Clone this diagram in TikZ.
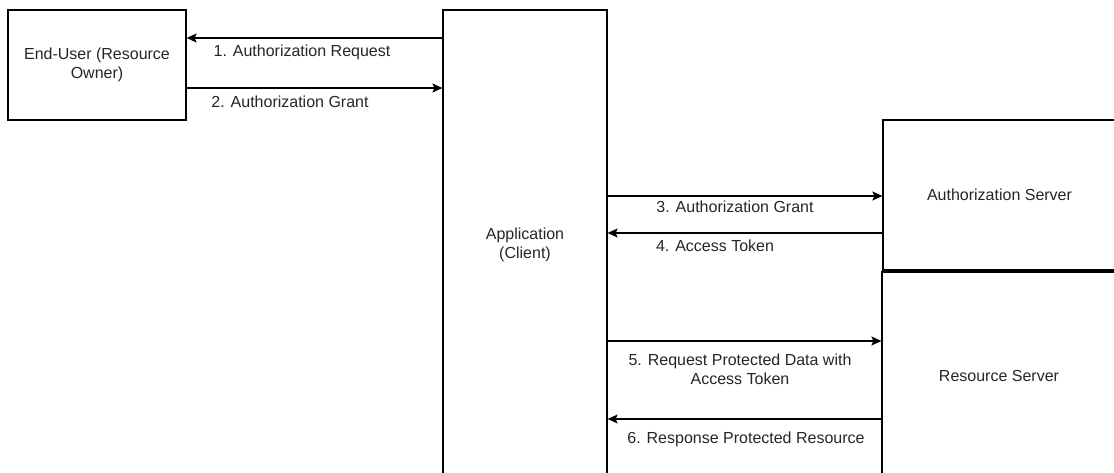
\documentclass[tikz,border=0pt]{standalone}
\usepackage{fontspec}
\setmainfont{Liberation Sans}
\usetikzlibrary{arrows.meta}
\begin{document}
\begin{tikzpicture}[x=1pt,y=-1pt,
  box/.style={draw=black,line width=1.2pt,fill=white,inner sep=0pt,align=center,
    font=\fontsize{16}{19}\selectfont,text=black!85},
  lbl/.style={inner sep=0pt,align=center,font=\fontsize{16}{19}\selectfont,text=black!85},
  arr/.style={draw=black,line width=1.2pt,-{Stealth[length=10pt,width=9pt,inset=2pt]}}]
\useasboundingbox (0,0) rectangle (1114,472);
\fill[white] (0,0) rectangle (1114,472);
\clip (0,0) rectangle (1114,472);
% boxes
\node[box,minimum width=178pt,minimum height=110pt] (eu) at (97,65) {End-User (Resource\\Owner)};
\node[box,minimum width=164pt,minimum height=470pt] (app) at (525,245) {Application\\(Client)};
\node[box,minimum width=233pt,minimum height=150pt] (as) at (999.5,195) {Authorization Server};
\node[box,minimum width=234pt,minimum height=208pt] (rs) at (999,376) {Resource Server};
% y levels
\coordinate (y1) at (0,38);
\coordinate (y2) at (0,88);
\coordinate (y3) at (0,196);
\coordinate (y4) at (0,233);
\coordinate (y5) at (0,341);
\coordinate (y6) at (0,419);
% connectors
\draw[arr] (app.west |- y1) -- (eu.east |- y1);
\draw[arr] (eu.east |- y2) -- (app.west |- y2);
\draw[arr] (app.east |- y3) -- (as.west |- y3);
\draw[arr] (as.west |- y4) -- (app.east |- y4);
\draw[arr] (app.east |- y5) -- (rs.west |- y5);
\draw[arr] (rs.west |- y6) -- (app.east |- y6);
% labels
\node[lbl] (l1) at (302,52) {1. Authorization Request};
\node[lbl] (l2) at (290,102) {2. Authorization Grant};
\node[lbl] (l3) at (735,207) {3. Authorization Grant};
\node[lbl] (l4) at (715,246) {4. Access Token};
\node[lbl] (l5) at (740,369.5) {5. Request Protected Data with\\Access Token};
\node[lbl] (l6) at (746,439) {6. Response Protected Resource};
\end{tikzpicture}
\end{document}
